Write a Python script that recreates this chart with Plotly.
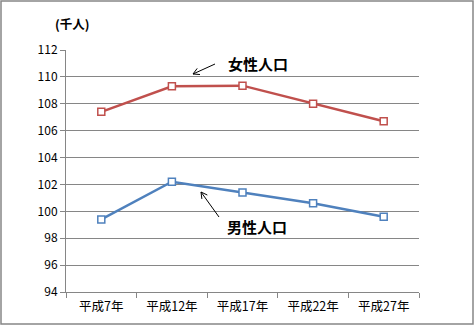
import math
import plotly.graph_objects as go

categories = ["平成7年", "平成12年", "平成17年", "平成22年", "平成27年"]
female = [107.4, 109.3, 109.35, 108.0, 106.7]
male = [99.4, 102.2, 101.4, 100.6, 99.6]
y_ticks = list(range(94, 113, 2))

L, R, T, B = 66, 56, 50, 34
W, H = 475, 326
PW, PH = W - L - R, H - T - B

def px(x):
    return (x - L) / PW

def py(y):
    return (H - B - y) / PH

font = "Noto Sans CJK JP, Liberation Sans, sans-serif"

fig = go.Figure()
fig.add_trace(go.Scatter(x=categories, y=female, mode="lines+markers",
                         line=dict(color="#C0504D", width=2.5),
                         marker=dict(symbol="square", size=7, color="white",
                                     line=dict(color="#C0504D", width=1.5)),
                         name="女性人口"))
fig.add_trace(go.Scatter(x=categories, y=male, mode="lines+markers",
                         line=dict(color="#4F81BD", width=2.5),
                         marker=dict(symbol="square", size=7, color="white",
                                     line=dict(color="#4F81BD", width=1.5)),
                         name="男性人口"))

fig.update_layout(
    width=W, height=H,
    margin=dict(l=L, r=R, t=T, b=B, autoexpand=False),
    paper_bgcolor="white", plot_bgcolor="white",
    showlegend=False,
    font=dict(family=font, size=11, color="black"),
    xaxis=dict(type="category", range=[-0.5, 4.5], showgrid=False, showline=True,
               linecolor="#868686", linewidth=1, ticks="outside", tickson="boundaries",
               ticklen=5, tickcolor="#868686", tickfont=dict(size=12.5),
               ticklabelstandoff=3, automargin=False),
    yaxis=dict(range=[94, 112], tickvals=y_ticks, showgrid=True, gridcolor="#868686",
               gridwidth=1, showline=True, linecolor="#868686", linewidth=1,
               ticks="outside", ticklen=5, tickcolor="#868686", zeroline=False,
               tickfont=dict(size=12), automargin=False),
)

# outer border
fig.add_shape(type="rect", xref="paper", yref="paper",
              x0=px(1), x1=px(473), y0=py(324), y1=py(1),
              line=dict(color="#868686", width=1.5), fillcolor="rgba(0,0,0,0)")

fig.add_annotation(xref="paper", yref="paper", x=px(72), y=py(23), xanchor="center",
                   yanchor="middle", text="<b>(千人)</b>", showarrow=False,
                   font=dict(size=12.5))

def arrow(tail, head):
    tx, ty = tail
    hx, hy = head
    ang = math.atan2(ty - hy, tx - hx)
    pts = []
    for d in (0.5, -0.5):
        pts.append((hx + 7 * math.cos(ang + d), hy + 7 * math.sin(ang + d)))
    path = (f"M {px(tx)} {py(ty)} L {px(hx)} {py(hy)} "
            f"M {px(pts[0][0])} {py(pts[0][1])} L {px(hx)} {py(hy)} "
            f"L {px(pts[1][0])} {py(pts[1][1])}")
    fig.add_shape(type="path", xref="paper", yref="paper", path=path,
                  line=dict(color="black", width=1))

arrow((215, 64), (193, 74))
arrow((219, 217), (201, 192))

fig.add_annotation(xref="paper", yref="paper", x=px(258), y=py(63), xanchor="center",
                   yanchor="middle", text="<b>女性人口</b>", showarrow=False,
                   font=dict(size=15))
fig.add_annotation(xref="paper", yref="paper", x=px(257), y=py(226), xanchor="center",
                   yanchor="middle", text="<b>男性人口</b>", showarrow=False,
                   font=dict(size=15))

fig.write_html("out.html")
